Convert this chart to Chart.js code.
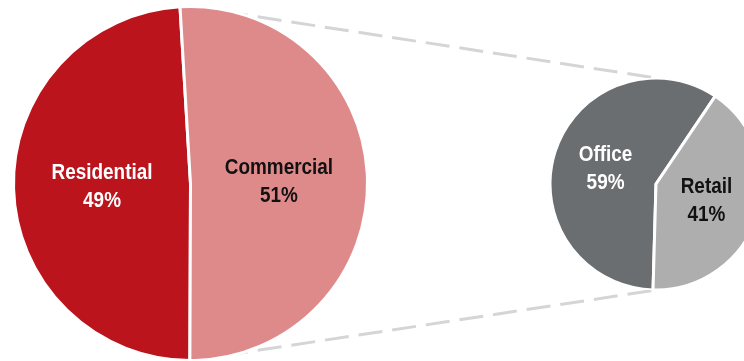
<!DOCTYPE html>
<html>
<head>
<meta charset="utf-8">
<script src="https://cdn.jsdelivr.net/npm/chart.js@4"></script>
<style>
  html, body { margin: 0; padding: 0; background: #fff; overflow: hidden; }
  #wrap { position: relative; width: 744px; height: 361px; overflow: hidden; }
  canvas { position: absolute; }
  #links { left: 0; top: 0; z-index: 0; }
  #sector-pie { left: 0; top: 0; z-index: 1; }
  #split-pie { left: 546px; top: 78px; z-index: 1; }
</style>
</head>
<body>
<div id="wrap">
  <canvas id="links" width="744" height="361"></canvas>
  <canvas id="sector-pie" width="381" height="367"></canvas>
  <canvas id="split-pie" width="220" height="212"></canvas>
</div>
<script>
// Sector split
const sectorLabels = ['Residential', 'Commercial'];
const sectorValues = [49, 51];
const sectorColors = ['#BC141D', '#DE8A8B'];
const sectorText = ['#FFFFFF', '#111111'];

// Commercial breakdown
const splitLabels = ['Office', 'Retail'];
const splitValues = [59, 41];
const splitColors = ['#6B6E70', '#AEAEAE'];
const splitText = ['#FFFFFF', '#111111'];

// no narrow face installed, so squeeze the bold sans horizontally
const labelFont = 'bold 22px "Liberation Sans", Arial, sans-serif';
const labelSqueeze = 0.86;

// writes "Name" and "NN%" in the middle of each slice
const sliceLabels = {
    id: 'sliceLabels',
    afterDatasetsDraw(chart, args, opts) {
        const ctx = chart.ctx;
        const ds = chart.data.datasets[0];
        const total = ds.data.reduce((a, b) => a + b, 0);
        chart.getDatasetMeta(0).data.forEach((arc, i) => {
            const p = arc.tooltipPosition();
            const pct = Math.round(ds.data[i] / total * 100) + '%';
            const y = p.y + opts.dy;
            ctx.save();
            ctx.translate(p.x + opts.dx, 0);
            ctx.scale(labelSqueeze, 1);
            ctx.font = labelFont;
            ctx.fillStyle = opts.colors[i];
            ctx.textAlign = 'center';
            ctx.textBaseline = 'middle';
            ctx.fillText(chart.data.labels[i], 0, y - 14);
            ctx.fillText(pct, 0, y + 14);
            ctx.restore();
        });
    }
};

function makePie(id, labels, values, colors, textColors, radius, rotation, dx, dy) {
    return new Chart(document.getElementById(id), {
        type: 'pie',
        data: {
            labels: labels,
            datasets: [{
                data: values,
                backgroundColor: colors,
                borderColor: '#FFFFFF',
                borderWidth: 3,
                hoverOffset: 0
            }]
        },
        options: {
            responsive: false,
            animation: false,
            radius: radius,
            rotation: rotation,
            layout: { padding: 0 },
            events: [],
            plugins: {
                legend: { display: false },
                tooltip: { enabled: false },
                sliceLabels: { colors: textColors, dx: dx, dy: dy }
            }
        },
        plugins: [sliceLabels]
    });
}

const sectorChart = makePie('sector-pie', sectorLabels, sectorValues, sectorColors, sectorText, 177, 180.2, 0, 1);
const splitChart = makePie('split-pie', splitLabels, splitValues, splitColors, splitText, 106, 181.6, 0, 1);

// dashed connectors from the big pie's top/bottom to the small pie's top/bottom
function drawLinks() {
    const c = document.getElementById('links');
    const ctx = c.getContext('2d');
    const a = sectorChart.getDatasetMeta(0).data[0];
    const b = splitChart.getDatasetMeta(0).data[0];
    const ao = document.getElementById('sector-pie');
    const bo = document.getElementById('split-pie');
    const ax = ao.offsetLeft + a.x, ay = ao.offsetTop + a.y;
    const bx = bo.offsetLeft + b.x, by = bo.offsetTop + b.y;
    ctx.strokeStyle = '#D4D6D6';
    ctx.lineWidth = 3;
    ctx.setLineDash([24, 10]);
    ctx.beginPath();
    ctx.moveTo(ax, ay - a.outerRadius);
    ctx.lineTo(bx, by - b.outerRadius);
    ctx.moveTo(ax, ay + a.outerRadius);
    ctx.lineTo(bx, by + b.outerRadius);
    ctx.stroke();
}
drawLinks();
</script>
</body>
</html>
